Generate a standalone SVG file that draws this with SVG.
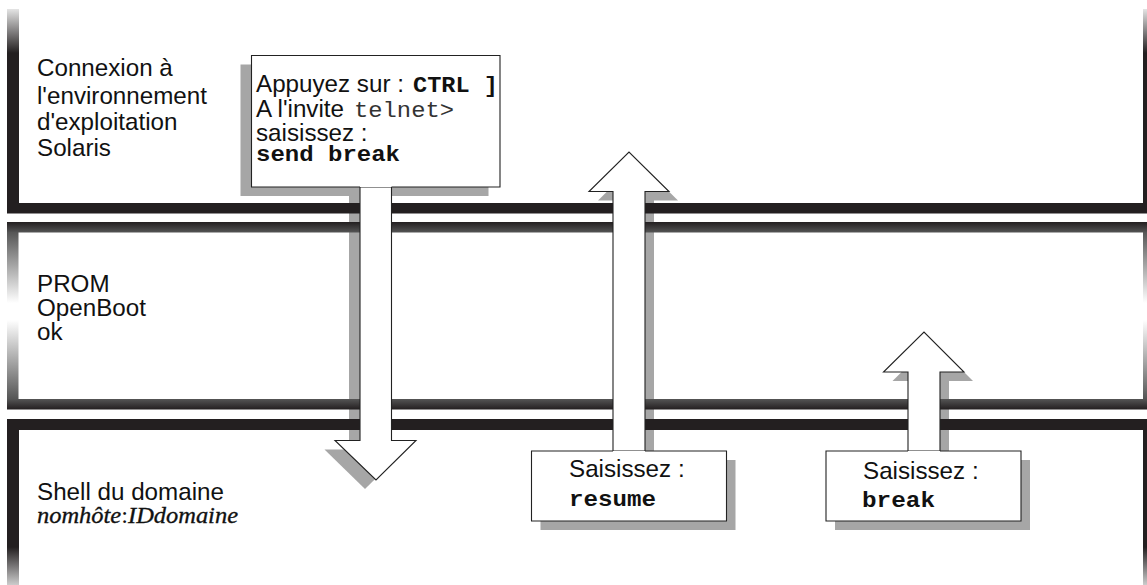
<svg xmlns="http://www.w3.org/2000/svg" width="1147" height="585" viewBox="0 0 1147 585">
<style>
.s{font-family:"Liberation Sans",Arial,sans-serif;font-size:24.2px;fill:#111}
.m{font-family:"Liberation Mono","Courier New",monospace;font-size:22px;fill:#111}
.t{fill:#333}
.b{font-weight:700}
.i{font-family:"Liberation Serif","Times New Roman",serif;font-style:italic;font-size:24px;fill:#111;stroke:#111;stroke-width:.35}
.c{font-style:normal;stroke:none}
.sh{fill:#a6a6a6}
.ol{fill:#fff;stroke:#222;stroke-width:1.1}
</style>
<defs>
<linearGradient id="g1" x1="0" y1="0" x2="0" y2="1"><stop offset="0" stop-color="#e4e4e4"/><stop offset="1" stop-color="#231f20"/></linearGradient>
<linearGradient id="g2" x1="0" y1="0" x2="0" y2="1"><stop offset="0" stop-color="#231f20"/><stop offset="1" stop-color="#555"/></linearGradient>
<linearGradient id="g3" x1="0" y1="0" x2="0" y2="1"><stop offset="0" stop-color="#555"/><stop offset="1" stop-color="#231f20"/></linearGradient>
<linearGradient id="g4" x1="0" y1="0" x2="0" y2="1"><stop offset="0" stop-color="#555"/><stop offset="1" stop-color="#fff"/></linearGradient>
<linearGradient id="g5" x1="0" y1="0" x2="0" y2="1"><stop offset="0" stop-color="#fff"/><stop offset="1" stop-color="#555"/></linearGradient>
<linearGradient id="g6" x1="0" y1="0" x2="0" y2="1"><stop offset="0" stop-color="#231f20"/><stop offset="1" stop-color="#ccc"/></linearGradient>
</defs>
<g id="shadows">
<rect class="sh" x="240.500" y="64.500" width="248" height="131.500"/>
<rect class="sh" x="349" y="190" width="11" height="259"/>
<polygon class="sh" points="324.500,449.500 405,449.500 365,489"/>
<rect class="sh" x="645" y="200" width="9" height="251"/>
<polygon class="sh" points="598,200.500 678,200.500 638,161"/>
<rect class="sh" x="540.500" y="460" width="195" height="70"/>
<rect class="sh" x="940" y="381" width="9" height="70"/>
<polygon class="sh" points="892.500,381 973,381 933,341"/>
<rect class="sh" x="835" y="460" width="195" height="70"/>
</g>
<g id="bands">
<rect x="7" y="9" width="12" height="44" fill="url(#g1)"/>
<rect x="7" y="53" width="12" height="150" fill="#231f20"/>
<rect x="7" y="203" width="1140" height="10.500" fill="#231f20"/>
<rect x="1143" y="9" width="4" height="44" fill="url(#g1)"/>
<rect x="1143" y="53" width="4" height="151" fill="#231f20"/>
<rect x="7" y="222" width="1140" height="10.500" fill="url(#g2)"/>
<rect x="7" y="232" width="11.500" height="71" fill="url(#g4)"/>
<rect x="1143" y="232" width="4" height="71" fill="url(#g4)"/>
<rect x="7" y="320" width="11.500" height="79" fill="url(#g5)"/>
<rect x="1143" y="320" width="4" height="79" fill="url(#g5)"/>
<rect x="7" y="399" width="1140" height="10.500" fill="url(#g3)"/>
<rect x="7" y="419" width="1140" height="11" fill="#231f20"/>
<rect x="7" y="430" width="12" height="117" fill="#231f20"/>
<rect x="7" y="547" width="12" height="38" fill="url(#g6)"/>
<rect x="1143" y="430" width="4" height="117" fill="#231f20"/>
<rect x="1143" y="547" width="4" height="38" fill="url(#g6)"/>
</g>
<g id="connectors">
<polygon class="ol" points="360,187 391.500,187 391.500,440.500 416,440.500 376,480 335,440.500 360,440.500"/>
<polygon class="ol" points="613,451 613,191.500 589,191.500 629,152 669,191.500 645,191.500 645,451"/>
<polygon class="ol" points="908,451 908,372 883.500,372 924,332 964,372 940,372 940,451"/>
</g>
<g id="node-connexion">
<text class="s"><tspan x="37" y="76">Connexion à</tspan><tspan x="37" y="104">l'environnement</tspan><tspan x="37" y="130">d'exploitation</tspan><tspan x="37" y="156">Solaris</tspan></text>
</g>
<g id="node-prom">
<text class="s"><tspan x="37" y="292">PROM</tspan><tspan x="37" y="316">OpenBoot</tspan><tspan x="37" y="340">ok</tspan></text>
</g>
<g id="node-shell">
<text class="s" x="37" y="500">Shell du domaine</text>
<text class="i" x="37" y="523" textLength="201" lengthAdjust="spacingAndGlyphs">nomhôte<tspan class="c">:</tspan>IDdomaine</text>
</g>
<g id="node-send">
<path d="M360 187H251.500V55.500H500V187H391.500" fill="#fff" stroke="#222" stroke-width="1.100"/>
<text class="s" x="256" y="92">Appuyez sur :</text>
<text class="m b" x="413" y="92" textLength="85" lengthAdjust="spacingAndGlyphs">CTRL ]</text>
<text class="s" x="256" y="117">A l'invite</text>
<text class="m t" x="354" y="117" textLength="100" lengthAdjust="spacingAndGlyphs">telnet&gt;</text>
<text class="s" x="256" y="141">saisissez :</text>
<text class="m b" x="256" y="161" textLength="144" lengthAdjust="spacingAndGlyphs">send break</text>
</g>
<g id="node-resume">
<path d="M613 451H531.500V521H726.500V451H645" fill="#fff" stroke="#222" stroke-width="1.100"/>
<text class="s" x="569" y="477">Saisissez :</text>
<text class="m b" x="569" y="506" textLength="87" lengthAdjust="spacingAndGlyphs">resume</text>
</g>
<g id="node-break">
<path d="M908 451H826V521H1021V451H940" fill="#fff" stroke="#222" stroke-width="1.100"/>
<text class="s" x="863" y="479">Saisissez :</text>
<text class="m b" x="862" y="507" textLength="73" lengthAdjust="spacingAndGlyphs">break</text>
</g>
</svg>
